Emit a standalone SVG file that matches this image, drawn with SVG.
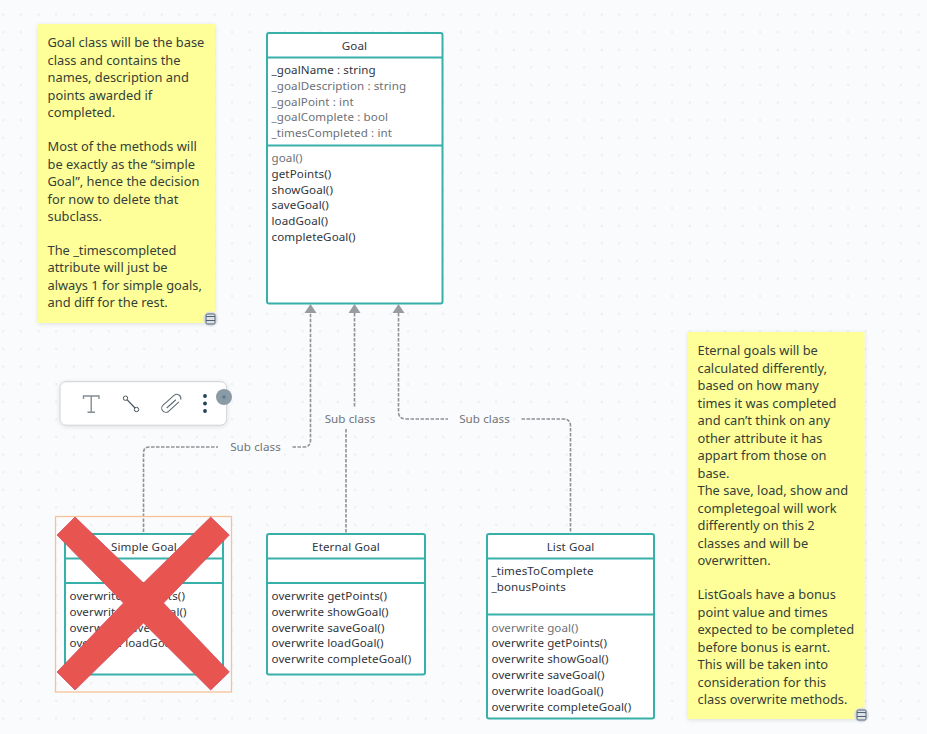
<svg xmlns="http://www.w3.org/2000/svg" width="927" height="734" viewBox="0 0 927 734">
<style>
text{font-family:"Noto Sans","Open Sans",sans-serif;font-size:11.6px;letter-spacing:.1px;fill:#30363d}
.m{fill:#6b7177}
.c{text-anchor:middle}
.s{font-size:12.85px;letter-spacing:0;fill:#353f38}
.l{fill:#6f7479;text-anchor:middle}
.box{fill:#fff;stroke:#38b0aa;stroke-width:2}
.div{stroke:#38b0aa;stroke-width:2;fill:none}
.conn{fill:none;stroke:#8f9296;stroke-width:1.6;stroke-dasharray:3.5 1.5}
.head{fill:#989b9f}
.note{fill:#ffff9a;filter:url(#sh)}
</style>
<defs>
<pattern id="dots" x="3.3" y="14.5" width="17.6" height="17.6" patternUnits="userSpaceOnUse"><circle cx="0" cy="0" r="1" fill="#e6e8ed"/><circle cx="17.6" cy="0" r="1" fill="#e6e8ed"/><circle cx="0" cy="17.6" r="1" fill="#e6e8ed"/><circle cx="17.6" cy="17.6" r="1" fill="#e6e8ed"/></pattern>
<filter id="sh" x="-10%" y="-10%" width="120%" height="120%"><feGaussianBlur in="SourceAlpha" stdDeviation="2.5"/><feOffset dy="1"/><feComponentTransfer><feFuncA type="linear" slope="0.12"/></feComponentTransfer><feMerge><feMergeNode/><feMergeNode in="SourceGraphic"/></feMerge></filter>
<g id="dbicon"><circle cx="0" cy="0" r="7.5" fill="#dde1e7"/><rect x="-4.5" y="-5" width="9" height="10" rx="1.2" fill="none" stroke="#4f6270" stroke-width="1"/><path d="M-4.500-2.500H4.500M-4.500 1.500H4.500" stroke="#4f6270" stroke-width="1"/></g>
</defs>
<rect width="927" height="734" fill="#fafbfd"/>
<rect width="927" height="734" fill="url(#dots)"/>
<g id="connectors">
<path class="conn" d="M143.500 537V453Q143.500 447 149.500 447H218M292.500 447H304Q310.500 447 310.500 440V313"/>
<path class="conn" d="M354.500 313V407M346 429V533"/>
<path class="conn" d="M398.500 313V412Q398.500 419 406 419H448M521.500 419H563Q570.500 419 570.500 426V533"/>
<path class="head" d="M310.500 304L316.500 313H304.500Z"/>
<path class="head" d="M354.500 304L360.500 313H348.500Z"/>
<path class="head" d="M398.500 304L404.500 313H392.500Z"/>
<text class="l" x="255.500" y="451">Sub class</text>
<text class="l" x="350" y="423">Sub class</text>
<text class="l" x="484.500" y="423">Sub class</text>
</g>
<g id="note-goal">
<rect class="note" x="38" y="24" width="177" height="299"/>
<text class="s" x="47.500" y="47">Goal class will be the base</text>
<text class="s" x="47.500" y="64.500">class and contains the</text>
<text class="s" x="47.500" y="82">names, description and</text>
<text class="s" x="47.500" y="99.500">points awarded if</text>
<text class="s" x="47.500" y="117">completed.</text>
<text class="s" x="47.500" y="151">Most of the methods will</text>
<text class="s" x="47.500" y="168.500">be exactly as the “simple</text>
<text class="s" x="47.500" y="186">Goal”, hence the decision</text>
<text class="s" x="47.500" y="203.500">for now to delete that</text>
<text class="s" x="47.500" y="221">subclass.</text>
<text class="s" x="47.500" y="254.500">The _timescompleted</text>
<text class="s" x="47.500" y="272">attribute will just be</text>
<text class="s" x="47.500" y="289.500">always 1 for simple goals,</text>
<text class="s" x="47.500" y="307">and diff for the rest.</text>
<use href="#dbicon" x="210.500" y="319"/>
</g>
<g id="class-goal">
<rect class="box" x="267" y="33" width="175.500" height="270.500" rx="2"/>
<path class="div" d="M267 57.500H442.500M267 145.500H442.500"/>
<text class="c" x="354.500" y="49.500">Goal</text>
<text x="271.500" y="74">_goalName : string</text>
<text class="m" x="271.500" y="89.800">_goalDescription : string</text>
<text class="m" x="271.500" y="105.600">_goalPoint : int</text>
<text class="m" x="271.500" y="121.400">_goalComplete : bool</text>
<text class="m" x="271.500" y="137.200">_timesCompleted : int</text>
<text class="m" x="271.500" y="162">goal()</text>
<text x="271.500" y="177.800">getPoints()</text>
<text x="271.500" y="193.600">showGoal()</text>
<text x="271.500" y="209.400">saveGoal()</text>
<text x="271.500" y="225.200">loadGoal()</text>
<text x="271.500" y="241">completeGoal()</text>
</g>
<g id="toolbar">
<rect x="60" y="381.700" width="166.700" height="43.500" rx="6" fill="#fff" stroke="#cfd2d6" filter="url(#sh)"/>
<path d="M83.500 399V396H99V399M91.200 396V412M87.500 412.300H95" fill="none" stroke="#848d92" stroke-width="1.400"/>
<path d="M127 399.700L135 408" stroke="#47535b" stroke-width="1.200"/><circle cx="125.500" cy="398.200" r="2.200" fill="#fff" stroke="#47535b" stroke-width="1"/><circle cx="136.500" cy="409.500" r="2.200" fill="#fff" stroke="#47535b" stroke-width="1"/>
<g transform="translate(171.300 403.300) rotate(-42) scale(.82)"><path d="M8 5H-9a5 5 0 0 1 0-10H9a5 5 0 0 1 2.500 9.300M-8 .5H7" fill="none" stroke="#5f6b73" stroke-width="1.300"/></g>
<circle cx="205" cy="396" r="1.900" fill="#1f4256"/><circle cx="205" cy="403.500" r="1.900" fill="#1f4256"/><circle cx="205" cy="411" r="1.900" fill="#1f4256"/>
<circle cx="224" cy="397" r="8" fill="#8a9ba6"/><circle cx="224" cy="397" r="1.800" fill="#5b7d94"/>
</g>
<g id="class-simple">
<rect x="55.500" y="516.500" width="176" height="175.500" fill="none" stroke="#f7c298" stroke-width="1.300"/>
<rect class="box" x="65" y="534" width="158" height="140.500" rx="1"/>
<path class="div" d="M65 558.500H223M65 583H223"/>
<text class="c" x="144" y="550.500">Simple Goal</text>
<text x="69.500" y="600">overwrite getPoints()</text>
<text x="69.500" y="615.800">overwrite showGoal()</text>
<text x="69.500" y="631.600">overwrite saveGoal()</text>
<text x="69.500" y="647.400">overwrite loadGoal()</text>
<path d="M57 535L75 517L143.500 583L210.700 517L229.300 535L163.500 603L229.300 672L210.700 690L143.500 623L75 690L57 672L123.500 603Z" fill="#e85450" stroke="#cf4d62" stroke-width=".8"/>
</g>
<g id="class-eternal">
<rect class="box" x="267" y="534" width="158" height="140.500" rx="2"/>
<path class="div" d="M267 558.500H425M267 583H425"/>
<text class="c" x="346" y="550.500">Eternal Goal</text>
<text x="271.500" y="600">overwrite getPoints()</text>
<text x="271.500" y="615.800">overwrite showGoal()</text>
<text x="271.500" y="631.600">overwrite saveGoal()</text>
<text x="271.500" y="647.400">overwrite loadGoal()</text>
<text x="271.500" y="663.200">overwrite completeGoal()</text>
</g>
<g id="class-list">
<rect class="box" x="487" y="534" width="167" height="184.500" rx="2"/>
<path class="div" d="M487 558.500H654M487 614.500H654"/>
<text class="c" x="570.500" y="550.500">List Goal</text>
<text x="491.500" y="575">_timesToComplete</text>
<text x="491.500" y="591">_bonusPoints</text>
<text class="m" x="491.500" y="631.500">overwrite goal()</text>
<text x="491.500" y="647.300">overwrite getPoints()</text>
<text x="491.500" y="663.100">overwrite showGoal()</text>
<text x="491.500" y="678.900">overwrite saveGoal()</text>
<text x="491.500" y="694.700">overwrite loadGoal()</text>
<text x="491.500" y="710.500">overwrite completeGoal()</text>
</g>
<g id="note-eternal">
<rect class="note" x="688" y="332" width="176.500" height="387"/>
<text class="s" x="697.500" y="355">Eternal goals will be</text>
<text class="s" x="697.500" y="372.500">calculated differently,</text>
<text class="s" x="697.500" y="390">based on how many</text>
<text class="s" x="697.500" y="407.500">times it was completed</text>
<text class="s" x="697.500" y="425">and can’t think on any</text>
<text class="s" x="697.500" y="442.500">other attribute it has</text>
<text class="s" x="697.500" y="460">appart from those on</text>
<text class="s" x="697.500" y="477.500">base.</text>
<text class="s" x="697.500" y="495">The save, load, show and</text>
<text class="s" x="697.500" y="512.500">completegoal will work</text>
<text class="s" x="697.500" y="530">differently on this 2</text>
<text class="s" x="697.500" y="547.500">classes and will be</text>
<text class="s" x="697.500" y="565">overwritten.</text>
<text class="s" x="697.500" y="599">ListGoals have a bonus</text>
<text class="s" x="697.500" y="616.500">point value and times</text>
<text class="s" x="697.500" y="634">expected to be completed</text>
<text class="s" x="697.500" y="651.500">before bonus is earnt.</text>
<text class="s" x="697.500" y="669">This will be taken into</text>
<text class="s" x="697.500" y="686.500">consideration for this</text>
<text class="s" x="697.500" y="704">class overwrite methods.</text>
<use href="#dbicon" x="861.500" y="715"/>
</g>
</svg>
